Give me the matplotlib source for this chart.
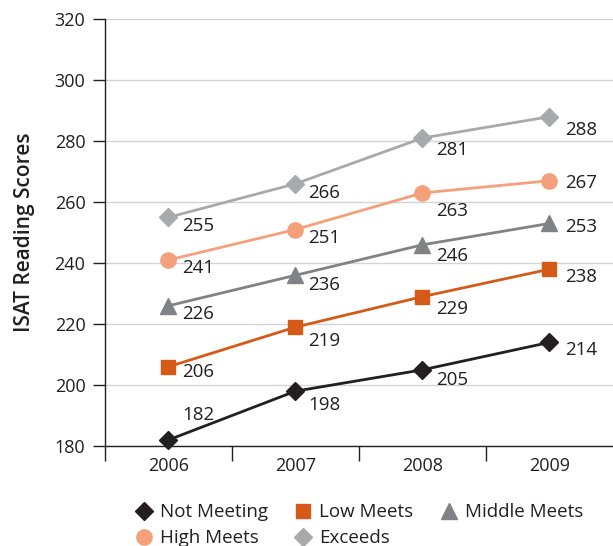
import matplotlib
matplotlib.use("Agg")
import matplotlib.pyplot as plt
from matplotlib.lines import Line2D

plt.rcParams['font.family'] = ['Open Sans', 'DejaVu Sans']

years = ['2006', '2007', '2008', '2009']
not_meeting = [182, 198, 205, 214]
low_meets = [206, 219, 229, 238]
middle_meets = [226, 236, 246, 253]
high_meets = [241, 251, 263, 267]
exceeds = [255, 266, 281, 288]

series = [
    ('Not Meeting', not_meeting, '#231f20', 'D', 9),
    ('Low Meets', low_meets, '#d65a17', 's', 10),
    ('Middle Meets', middle_meets, '#808285', '^', 11),
    ('High Meets', high_meets, '#f4a07a', 'o', 11),
    ('Exceeds', exceeds, '#a7a9ac', 'D', 9),
]

# label offsets below the marker, in pixels (negative = above)
label_dy = {
    'Not Meeting': [25, -14, -10, -8],
    'Low Meets': [-5, -14, -12, -8],
    'Middle Meets': [-8, -10, -11, -4],
    'High Meets': [-8, -8, -18, -2],
    'Exceeds': [-9, -9, -12, -13],
}
label_dx = [14, 13, 14, 16]

text_col = '#231f20'

fig = plt.figure(figsize=(6.13, 5.46), dpi=100)
ax = fig.add_axes([0.171, 0.183, 0.829, 0.782])

x = list(range(len(years)))
for name, vals, col, mk, ms in series:
    ax.plot(x, vals, color=col, lw=2, marker=mk, ms=ms, mec=col, mfc=col, zorder=3, clip_on=False)
    for i, v in enumerate(vals):
        ax.annotate(str(v), (x[i], v), xytext=(label_dx[i], label_dy[name][i]),
                    textcoords='offset pixels', ha='left', va='center',
                    fontsize=13.5, color=text_col)

ax.set_ylim(180, 320)
ax.set_xlim(-0.5, 3.5)
ax.set_yticks(range(180, 321, 20))
ax.yaxis.grid(True, color='#d4d4d4', lw=1)
ax.set_axisbelow(True)

ax.set_xticks([-0.5, 0.5, 1.5, 2.5])
ax.set_xticklabels([])
ax.set_xticks(x, minor=True)
ax.set_xticklabels(years, minor=True)
ax.tick_params(axis='x', which='major', length=11, width=1, color=text_col)
ax.tick_params(axis='x', which='minor', length=0, pad=8, labelsize=13, labelcolor=text_col)
ax.tick_params(axis='y', length=9, width=1, pad=5, labelsize=13, labelcolor=text_col, color=text_col)

for s in ['top', 'right']:
    ax.spines[s].set_visible(False)
for s in ['left', 'bottom']:
    ax.spines[s].set_color(text_col)
    ax.spines[s].set_linewidth(1)

ax.set_ylabel('ISAT Reading Scores', fontsize=15, fontweight='semibold', color=text_col, labelpad=14)

handles = [Line2D([], [], ls='none', marker=mk, ms=ms, color=col, label=name)
           for name, vals, col, mk, ms in series]
order = [0, 3, 1, 4, 2]
fig.legend([handles[i] for i in order], [handles[i].get_label() for i in order],
           ncol=3, loc='center', bbox_to_anchor=(0.585, 0.038), frameon=False,
           fontsize=13.5, handlelength=1, handletextpad=0.35, columnspacing=1.4,
           labelspacing=0.42, borderpad=0, labelcolor=text_col)

fig.savefig('out.png', dpi=100)
